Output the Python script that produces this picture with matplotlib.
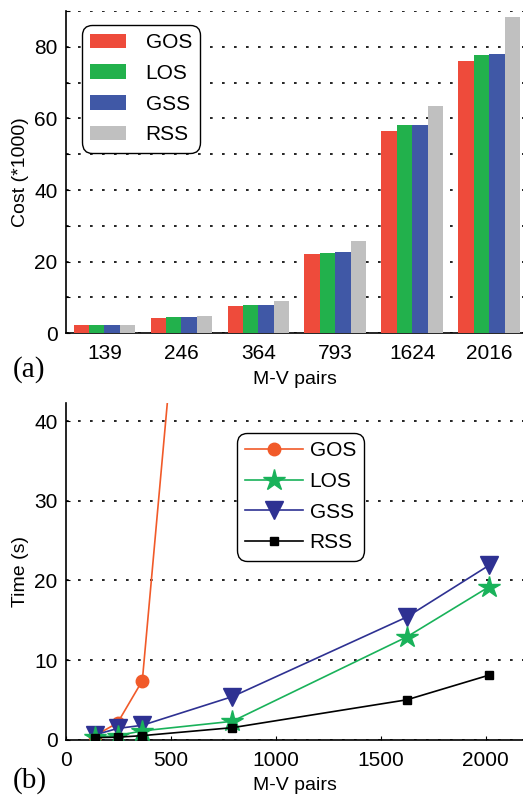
import numpy as np
import matplotlib.pyplot as plt

plt.rcParams['font.family'] = ['Liberation Sans', 'DejaVu Sans']

# cost of each scheme per number of M-V pairs (in thousands)
pairs = [139, 246, 364, 793, 1624, 2016]
pair_labels = ['139', '246', '364', '793', '1624', '2016']
cost_gos = [2.2, 4.2, 7.5, 22.1, 56.4, 76.0]
cost_los = [2.2, 4.5, 7.8, 22.4, 58.1, 77.7]
cost_gss = [2.2, 4.5, 7.8, 22.6, 58.1, 78.0]
cost_rss = [2.2, 4.8, 8.9, 25.7, 63.4, 88.3]

# running time in seconds
time_gos = [0.5, 2.1, 7.4, 133.0, None, None]
time_los = [0.3, 0.5, 1.1, 2.3, 12.9, 19.2]
time_gss = [0.6, 1.4, 1.8, 5.4, 15.4, 21.9]
time_rss = [0.25, 0.3, 0.5, 1.5, 5.0, 8.1]

names = ['GOS', 'LOS', 'GSS', 'RSS']
bar_colors = ['#ee4b3b', '#22b14c', '#4058a6', '#c0c0c0']

fig = plt.figure(figsize=(5.23, 7.97), dpi=100)

grid_kw = dict(color='black', linestyle=(0, (1.6, 5.6)), linewidth=1.2)
serif = ['Liberation Serif', 'DejaVu Serif']

# (a) cost bars
ax1 = fig.add_axes([0.126, 0.582, 0.883, 0.404])
x = np.arange(1, len(pairs) + 1)
w = 0.2
for i, (vals, c) in enumerate(zip([cost_gos, cost_los, cost_gss, cost_rss], bar_colors)):
    ax1.bar(x + (i - 1.5) * w, vals, width=w, color=c, label=names[i], zorder=3)
ax1.set_xlim(0.5, 6.5)
ax1.set_ylim(0, 90)
ax1.set_yticks(np.arange(0, 91, 10))
ax1.set_yticklabels(['0', '', '20', '', '40', '', '60', '', '80', ''])
ax1.set_xticks(x)
ax1.set_xticklabels(pair_labels)
ax1.yaxis.grid(True, **grid_kw)
ax1.set_ylabel('Cost (*1000)', fontsize=14)
ax1.set_xlabel('M-V pairs', fontsize=14, va='top')
ax1.yaxis.set_label_coords(-0.08, 0.5)
ax1.xaxis.set_label_coords(0.496, -0.118)
leg1 = ax1.legend(loc='upper left', bbox_to_anchor=(0.035, 0.957), fontsize=15,
                  handlelength=1.7, handleheight=0.72, handletextpad=0.95,
                  labelspacing=0.56, borderpad=0.4, borderaxespad=0,
                  fancybox=True, framealpha=1, edgecolor='black')
leg1.get_frame().set_boxstyle('round,pad=0,rounding_size=0.5')
leg1.get_frame().set_linewidth(1.0)
fig.text(0.025, 0.527, '(a)', family=serif, fontsize=21)

# (b) running time
ax2 = fig.add_axes([0.126, 0.072, 0.883, 0.4225])
ax2.plot(pairs, time_gos, '-o', color='#f15a29', lw=1.2, ms=9, label='GOS', zorder=3)
ax2.plot(pairs, time_los, '-*', color='#19b25a', lw=1.2, ms=16, label='LOS', zorder=4)
ax2.plot(pairs, time_gss, '-v', color='#2e3192', lw=1.2, ms=13, label='GSS', zorder=3)
ax2.plot(pairs, time_rss, '-s', color='black', lw=1.2, ms=5.5, label='RSS', zorder=5)
ax2.set_xlim(0, 2200)
ax2.set_ylim(0, 42.3)
ax2.set_xticks([0, 500, 1000, 1500, 2000])
ax2.set_yticks([0, 10, 20, 30, 40])
ax2.yaxis.grid(True, **grid_kw)
ax2.set_ylabel('Time (s)', fontsize=14)
ax2.set_xlabel('M-V pairs', fontsize=14, va='top')
ax2.yaxis.set_label_coords(-0.08, 0.5)
ax2.xaxis.set_label_coords(0.496, -0.11)
leg2 = ax2.legend(loc='upper left', bbox_to_anchor=(0.37, 0.911), fontsize=15,
                  handlelength=2.8, handletextpad=0.3, labelspacing=0.56,
                  borderpad=0.4, borderaxespad=0, fancybox=True,
                  framealpha=1, edgecolor='black')
leg2.get_frame().set_boxstyle('round,pad=0,rounding_size=0.5')
leg2.get_frame().set_linewidth(1.0)
fig.text(0.025, 0.012, '(b)', family=serif, fontsize=21)

for ax in (ax1, ax2):
    ax.spines['top'].set_visible(False)
    ax.spines['right'].set_visible(False)
    ax.spines['left'].set_linewidth(1.2)
    ax.spines['bottom'].set_linewidth(1.2)
    ax.tick_params(direction='in', length=3, labelsize=15, pad=6,
                   top=False, right=False)
    ax.set_axisbelow(True)

ax1.tick_params(axis='x', length=0, pad=8)
ax2.tick_params(axis='x', pad=8)

fig.savefig('out.png', dpi=100)
